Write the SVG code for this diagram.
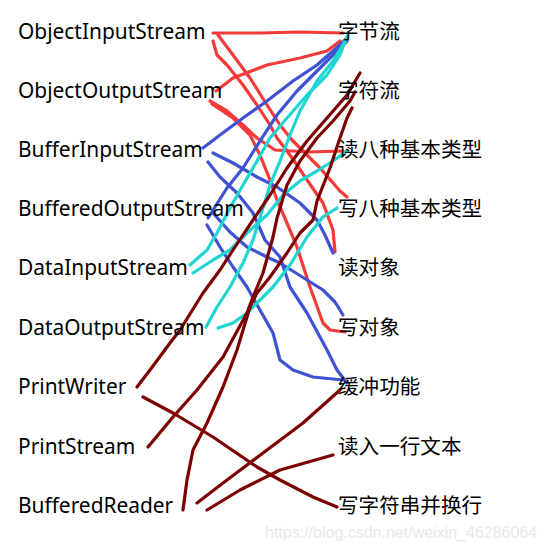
<svg xmlns="http://www.w3.org/2000/svg" width="547" height="552" viewBox="0 0 547 552">
<style>
.l{font-family:"Noto Sans","Noto Sans CJK SC",sans-serif;font-size:20.9px;fill:#000}
.r{font-family:"Noto Sans CJK SC","Noto Sans",sans-serif;font-size:20.6px;fill:#000}
.w{font-family:"Liberation Sans",Arial,sans-serif;font-size:16px;fill:#e8e8e8}
polyline{fill:none;stroke-width:3.2;stroke-linecap:round;stroke-linejoin:round}
.red polyline{stroke:#f53a3a}
.blue polyline{stroke:#3f52d2}
.cyan polyline{stroke:#1fd6d2}
.dark polyline{stroke:#7d0000}
</style>
<rect width="547" height="552" fill="#fff"/>
<g id="connectors">
<g class="red">
<polyline points="213,33 260,33 300,32 343,33"/>
<polyline points="218,35 233,55 250,78 267,105 280,125 292,140 306,154 320,168 340,191 347,197"/>
<polyline points="213,41 217,55 227,65 243,85 257,105 270,125 277,138 287,151 297,165 307,180 323,203 333,230 335,252"/>
<polyline points="216,91 233,78 267,65 300,58 327,51 340,41"/>
<polyline points="210,101 227,111 243,125 257,138 275,150 310,152 343,151"/>
<polyline points="212,104 233,118 250,135 260,155 270,180 277,200 287,223 297,247 310,287 323,323 330,330 345,332"/>
</g>
<g class="blue">
<polyline points="203,148 220,135 243,118 267,101 293,81 317,65 333,51 345,40"/>
<polyline points="213,153 233,163 257,177 277,187 300,203 317,220 325,235 333,253"/>
<polyline points="208,162 220,177 237,193 253,213 265,240 280,257 290,287 307,313 320,337 327,350 337,370 347,383"/>
<polyline points="208,218 227,188 243,168 260,141 277,115 297,91 317,71 337,51 347,41"/>
<polyline points="213,213 230,232 247,247 267,257 280,263 307,280 323,290 335,302 343,315"/>
<polyline points="207,225 220,247 233,267 247,287 260,310 273,333 280,360 293,370 313,377 343,380"/>
</g>
<g class="cyan">
<polyline points="190,265 207,250 217,233 230,208 243,185 257,161 270,138 287,118 307,95 327,75 340,55 347,36"/>
<polyline points="193,273 213,260 230,250 247,233 267,215 283,195 300,181 317,171 333,161 347,151"/>
<polyline points="206,327 217,307 230,287 243,263 253,240 263,208 270,185 280,161 290,135 300,111 317,81 333,61 347,38"/>
<polyline points="218,328 233,323 247,313 260,300 273,287 290,265 307,237 323,217 337,208"/>
</g>
<g class="dark">
<polyline points="137,387 150,370 170,343 180,330 203,293 220,270 233,250 253,220 270,195 287,168 307,141 327,118 347,95 360,73"/>
<polyline points="143,397 173,413 213,437 257,467 280,480 313,497 337,507"/>
<polyline points="148,447 173,417 197,390 223,357 247,313 253,297 263,273 273,237 277,218 287,185 300,161 317,138 333,121 350,101 355,92"/>
<polyline points="183,510 187,480 193,450 207,423 223,387 237,350 250,307 257,293 270,277 287,253 300,233 313,220 317,201 330,168 340,138 347,118 352,108"/>
<polyline points="197,503 223,483 263,453 303,423 340,390"/>
<polyline points="207,510 240,490 280,470 333,455"/>
</g>
</g>
<g id="ObjectInputStream"><text class="l" x="18" y="39">ObjectInputStream</text></g>
<g id="ObjectOutputStream"><text class="l" x="18" y="98">ObjectOutputStream</text></g>
<g id="BufferInputStream"><text class="l" x="18" y="157">BufferInputStream</text></g>
<g id="BufferedOutputStream"><text class="l" x="18" y="216">BufferedOutputStream</text></g>
<g id="DataInputStream"><text class="l" x="18" y="275">DataInputStream</text></g>
<g id="DataOutputStream"><text class="l" x="18" y="335">DataOutputStream</text></g>
<g id="PrintWriter"><text class="l" x="18" y="394">PrintWriter</text></g>
<g id="PrintStream"><text class="l" x="18" y="454">PrintStream</text></g>
<g id="BufferedReader"><text class="l" x="18" y="513">BufferedReader</text></g>
<g id="byte-stream"><text class="r" x="338" y="39">字节流</text></g>
<g id="char-stream"><text class="r" x="338" y="98">字符流</text></g>
<g id="read-primitive"><text class="r" x="338" y="157">读八种基本类型</text></g>
<g id="write-primitive"><text class="r" x="338" y="216">写八种基本类型</text></g>
<g id="read-object"><text class="r" x="338" y="275">读对象</text></g>
<g id="write-object"><text class="r" x="338" y="335">写对象</text></g>
<g id="buffer"><text class="r" x="338" y="394">缓冲功能</text></g>
<g id="read-line"><text class="r" x="338" y="454">读入一行文本</text></g>
<g id="write-line"><text class="r" x="338" y="513">写字符串并换行</text></g>
<text class="w" x="265" y="538">https://blog.csdn.net/weixin_46286064</text>
</svg>
